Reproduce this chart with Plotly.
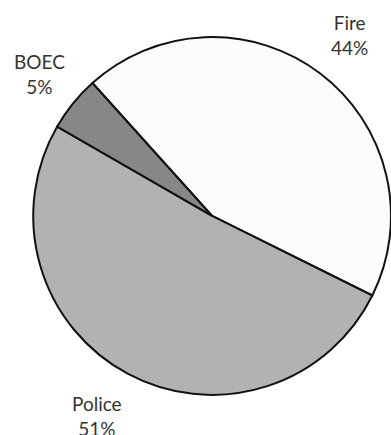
import plotly.graph_objects as go

# Share of the budget by bureau
labels = ["Fire", "Police", "BOEC"]
shares = [44, 51, 5]
colors = ["#fcfcfc", "#b2b2b2", "#878787"]

# label placement (paper coordinates) for each bureau
label_x = [0.895, 0.248, 0.10]
label_y = [0.92, 0.044, 0.83]

fig = go.Figure(
    go.Pie(
        labels=labels,
        values=shares,
        sort=False,
        direction="clockwise",
        rotation=-42,
        textinfo="none",
        hoverinfo="label+percent",
        marker=dict(colors=colors, line=dict(color="#111111", width=2)),
        domain=dict(x=[0.085, 1.0], y=[0.092, 0.915]),
        showlegend=False,
    )
)

total = sum(shares)
for name, v, x, y in zip(labels, shares, label_x, label_y):
    fig.add_annotation(
        x=x, y=y, xref="paper", yref="paper",
        xanchor="center", yanchor="middle",
        text=f"{name}<br>{round(100 * v / total)}%",
        showarrow=False,
        font=dict(family="Lato, 'Open Sans', sans-serif", size=19, color="#333333"),
        align="center",
    )

fig.update_layout(
    width=391,
    height=435,
    margin=dict(l=0, r=0, t=0, b=0),
    paper_bgcolor="white",
    plot_bgcolor="white",
)

fig.write_html("out.html")
